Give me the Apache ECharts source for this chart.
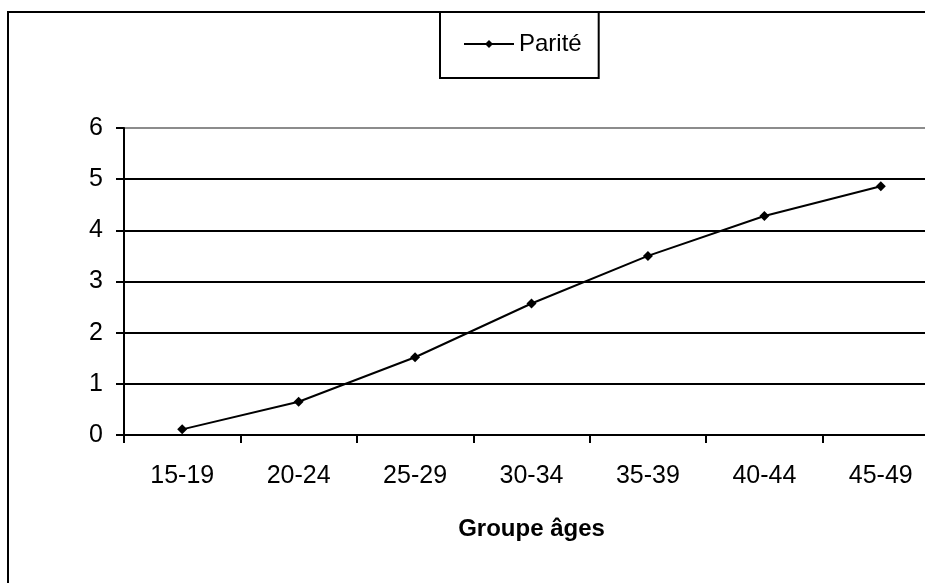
<!DOCTYPE html>
<html>
<head>
<meta charset="utf-8">
<script src="https://cdn.jsdelivr.net/npm/echarts@6/dist/echarts.min.js"></script>
<style>
  html, body { margin: 0; padding: 0; background: #fff; }
  #chart { width: 925px; height: 583px; }
</style>
</head>
<body>
<div id="chart"></div>
<script>
// age groups and parity values
var ageGroups = ['15-19', '20-24', '25-29', '30-34', '35-39', '40-44', '45-49']
var parite = [0.11, 0.65, 1.52, 2.57, 3.5, 4.28, 4.86]
var yTicks = [0, 1, 2, 3, 4, 5, 6]

var font = 'Liberation Sans, Arial, sans-serif'
var chart = echarts.init(document.getElementById('chart'))

chart.setOption({
  backgroundColor: '#fff',
  animation: false,
  textStyle: { fontFamily: font, color: '#000' },
  graphic: [
    {
      type: 'rect',
      shape: { x: 8, y: 12, width: 1200, height: 1200 },
      style: { fill: 'none', stroke: '#000', lineWidth: 2 },
      silent: true
    }
  ],
  legend: {
    left: 440,
    top: 12,
    padding: [20, 17, 22, 23],
    borderColor: '#000',
    borderWidth: 2,
    itemWidth: 50,
    itemHeight: 10,
    itemGap: 5,
    textStyle: { fontSize: 24, color: '#000', fontFamily: font },
    data: ['Parité']
  },
  grid: {
    left: 124,
    top: 128,
    width: 815,
    height: 307,
    outerBoundsMode: 'none'
  },
  xAxis: {
    type: 'category',
    data: ageGroups,
    boundaryGap: true,
    name: 'Groupe âges',
    nameLocation: 'middle',
    nameGap: 82,
    nameTextStyle: { fontSize: 24, fontWeight: 'bold', color: '#000', fontFamily: font },
    axisLine: { lineStyle: { color: '#000', width: 2 } },
    axisTick: { show: true, interval: 0, length: 8, lineStyle: { color: '#000', width: 2 } },
    axisLabel: { fontSize: 25, color: '#000', margin: 29, interval: 0, fontFamily: font },
    splitLine: { show: false }
  },
  yAxis: {
    type: 'value',
    min: yTicks[0],
    max: yTicks[yTicks.length - 1],
    interval: 1,
    axisLine: { show: true, lineStyle: { color: '#000', width: 2 } },
    axisTick: { show: true, length: 8, lineStyle: { color: '#000', width: 2 } },
    axisLabel: { fontSize: 25, color: '#000', margin: 21, fontFamily: font },
    splitLine: {
      show: true,
      lineStyle: {
        color: ['#000', '#000', '#000', '#000', '#000', '#000', '#8c8c8c'],
        width: 2
      }
    }
  },
  series: [
    {
      name: 'Parité',
      type: 'line',
      data: parite,
      symbol: 'diamond',
      symbolSize: 10,
      itemStyle: { color: '#000' },
      lineStyle: { color: '#000', width: 2 }
    }
  ]
})
</script>
</body>
</html>
